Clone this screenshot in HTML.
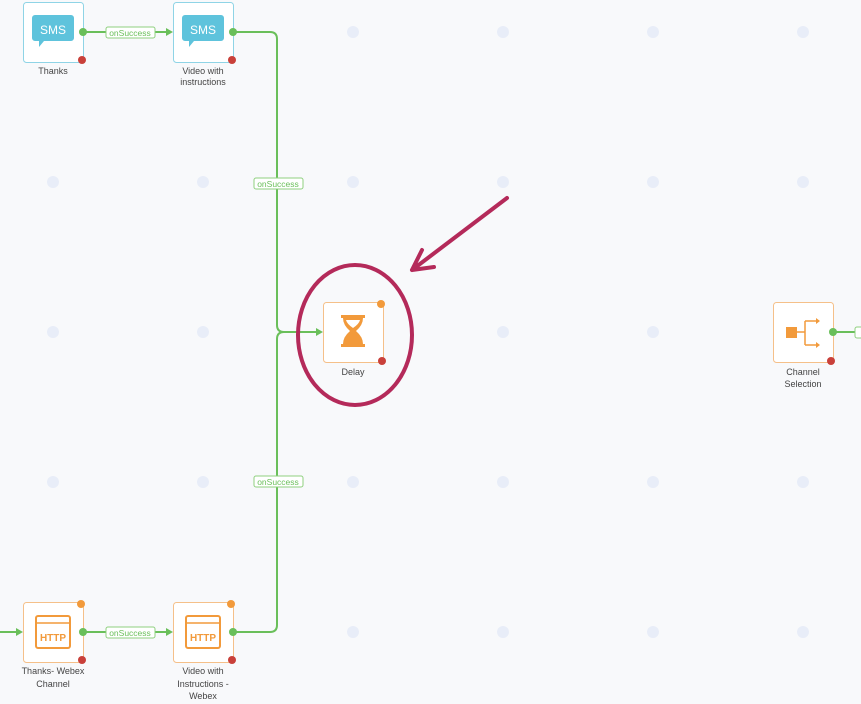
<!DOCTYPE html>
<html><head><style>body{margin:0;background:#f8f9fb}svg{display:block}text{font-family:"Liberation Sans",sans-serif}</style></head>
<body>
<svg width="861" height="704" viewBox="0 0 861 704" xmlns="http://www.w3.org/2000/svg">
<rect width="861" height="704" fill="#f8f9fb"/>
<g fill="#e8edf8">
<g id="row"><ellipse cx="53" cy="32" rx="6" ry="6"/><ellipse cx="203" cy="32" rx="6" ry="6"/><ellipse cx="353" cy="32" rx="6" ry="6"/><ellipse cx="503" cy="32" rx="6" ry="6"/><ellipse cx="653" cy="32" rx="6" ry="6"/><ellipse cx="803" cy="32" rx="6" ry="6"/></g>
<use href="#row" y="150"/><use href="#row" y="300"/><use href="#row" y="450"/><use href="#row" y="600"/>
</g>
<g fill="none" stroke="#6abf5a" stroke-width="2">
<path d="M83 32H168"/><path d="M233 32H270Q277 32 277 39V325Q277 332 284 332H318"/>
<path d="M233 632H270Q277 632 277 625V339Q277 332 284 332"/>
<path d="M83 632H168"/><path d="M0 632H18"/><path d="M833 332H861"/>
</g>
<g fill="#6abf5a"><path d="M173 32l-7-4v8z"/><path d="M323 332l-7-4v8z"/><path d="M173 632l-7-4v8z"/><path d="M23 632l-7-4v8z"/></g>
<g font-size="8.5" fill="#6abf5a" text-anchor="middle">
<rect x="106" y="27" width="49" height="11" rx="2" fill="#fff" stroke="#8fd07f"/><text x="130" y="36">onSuccess</text>
<rect x="106" y="627" width="49" height="11" rx="2" fill="#fff" stroke="#8fd07f"/><text x="130" y="636">onSuccess</text>
<rect x="254" y="178" width="49" height="11" rx="2" fill="#fff" stroke="#8fd07f"/><text x="278" y="187">onSuccess</text>
<rect x="254" y="476" width="49" height="11" rx="2" fill="#fff" stroke="#8fd07f"/><text x="278" y="485">onSuccess</text>
<rect x="855" y="327" width="10" height="11" rx="2" fill="#fff" stroke="#8fd07f"/>
</g>
<!-- SMS nodes -->
<g id="sms">
<rect x="23.5" y="2.5" width="60" height="60" rx="3" fill="#fff" stroke="#8fd4e6"/>
<path d="M35 15h36a3 3 0 0 1 3 3v20a3 3 0 0 1-3 3h-27l-5 6v-6h-4a3 3 0 0 1-3-3v-20a3 3 0 0 1 3-3z" fill="#5ec3dc"/>
<text x="53" y="34" font-size="12" fill="#fff" text-anchor="middle">SMS</text>
<circle cx="83" cy="32" r="4" fill="#6abf5a"/><circle cx="82" cy="60" r="4" fill="#c9403a"/>
</g>
<use href="#sms" x="150"/>
<g font-size="9" fill="#444" text-anchor="middle">
<text x="53" y="74">Thanks</text><text x="203" y="74">Video with</text><text x="203" y="85">instructions</text>
<text x="53" y="674">Thanks- Webex</text><text x="53" y="687">Channel</text>
<text x="203" y="674">Video with</text><text x="203" y="687">Instructions -</text><text x="203" y="699">Webex</text>
<text x="353" y="375">Delay</text>
<text x="803" y="375">Channel</text><text x="803" y="387">Selection</text>
</g>
<!-- HTTP nodes -->
<g id="http">
<rect x="23.5" y="602.5" width="60" height="60" rx="3" fill="#fff" stroke="#f5c089"/>
<rect x="36" y="616" width="34" height="32" rx="2" fill="none" stroke="#f29a3b" stroke-width="2"/>
<line x1="36" y1="623" x2="70" y2="623" stroke="#f29a3b" stroke-width="1.5"/>
<text x="53" y="641" font-size="10" font-weight="bold" fill="#f29a3b" text-anchor="middle">HTTP</text>
<circle cx="81" cy="604" r="4" fill="#f29a3b"/><circle cx="83" cy="632" r="4" fill="#6abf5a"/><circle cx="82" cy="660" r="4" fill="#c9403a"/>
</g>
<use href="#http" x="150"/>
<!-- Delay -->
<rect x="323.5" y="302.5" width="60" height="60" rx="3" fill="#fff" stroke="#f5c089"/>
<path d="M341 315h24v3h-2q0 7-7 13 7 6 7 13h2v3h-24v-3h2q0-7 7-13-7-6-7-13h-2z" fill="#f29a3b"/>
<path d="M346 320h14q-1 4-7 8-6-4-7-8z" fill="#fff"/>
<circle cx="381" cy="304" r="4" fill="#f29a3b"/><circle cx="382" cy="361" r="4" fill="#c9403a"/>
<!-- Channel selection -->
<rect x="773.5" y="302.5" width="60" height="60" rx="3" fill="#fff" stroke="#f5c089"/>
<rect x="786" y="327" width="11" height="11" fill="#f29a3b"/>
<path d="M797 332h8M805 321v24M805 321h12M805 345h12" stroke="#f29a3b" stroke-width="1.5" fill="none"/>
<path d="M820 321l-4-3v6zM820 345l-4-3v6z" fill="#f29a3b"/>
<circle cx="833" cy="332" r="4" fill="#6abf5a"/><circle cx="831" cy="361" r="4" fill="#c9403a"/>
<!-- annotation -->
<ellipse cx="355" cy="335" rx="57" ry="70" fill="none" stroke="#b42a5a" stroke-width="4"/>
<path d="M507 198L412 270M412 270l10-20M412 270l22-3" fill="none" stroke="#b42a5a" stroke-width="4" stroke-linecap="round"/>
</svg>
</body></html>
